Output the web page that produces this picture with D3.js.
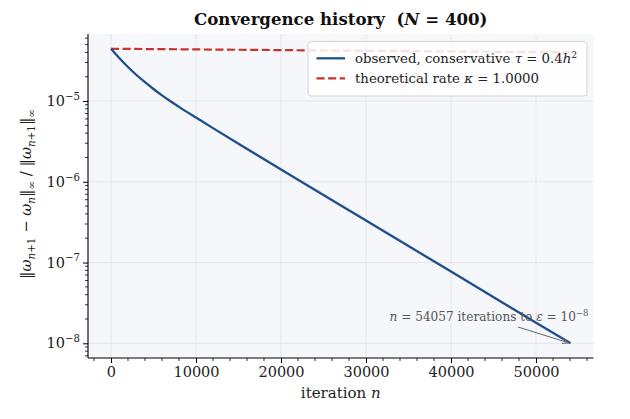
<!DOCTYPE html>
<html><head><meta charset="utf-8">
<script src="https://cdn.jsdelivr.net/npm/d3@7"></script>
<style>body{margin:0;background:#fff}svg{display:block;font-family:"DejaVu Serif",serif}svg text{font-family:"DejaVu Serif",serif}</style>
</head><body><svg id="c" width="630" height="419"></svg>
<script>
// ---- data ----
const iterations = [0, 1000, 2000, 3000, 4000, 5000, 6000, 7000, 8000, 10000, 12000, 15000, 20000, 30000, 40000, 50000, 54057];
const residuals  = [4.44e-5, 3.39e-5, 2.64e-5, 2.10e-5, 1.71e-5, 1.41e-5, 1.175e-5, 9.93e-6, 8.47e-6, 6.24e-6, 4.62e-6, 2.96e-6, 1.42e-6, 3.31e-7, 7.73e-8, 1.80e-8, 1.0e-8];
const theoryIters = [0, 54057];
const theoryVals  = [4.44e-5, 4.0e-5];
const xTicks = [0, 10000, 20000, 30000, 40000, 50000];
const yTickExps = [-5, -6, -7, -8];
const finalN = 54057, tol = 1e-8;

const svg = d3.select("#c");
const L = 88, R = 593.5, T = 34, B = 358;
const x = d3.scaleLinear().domain([-2703, 56760]).range([L, R]);
const y = d3.scaleLog().domain([Math.pow(10, -8.182), Math.pow(10, -4.17)]).range([B, T]);

const C_BLUE = "#1f4e8a", C_RED = "#c8312d", GRID = "#e1e4ea";
const FF = "DejaVu Serif";

function rich(sel, segs, fs) {
  let cur = 0;
  segs.forEach(s => {
    const shift = s.sub ? 0.28 * fs : s.sup ? -0.42 * fs : 0;
    const t = sel.append("tspan").text(s.t)
      .attr("font-size", (s.sub || s.sup) ? 0.7 * fs : fs)
      .attr("dy", shift - cur);
    if (s.it) t.attr("font-style", "italic");
    cur = shift;
  });
  return sel;
}

// background
svg.append("rect").attr("x", L).attr("y", T).attr("width", R - L).attr("height", B - T).attr("fill", "#f5f7fb");

// grid
svg.append("g").selectAll("line").data(xTicks).join("line")
  .attr("x1", d => x(d)).attr("x2", d => x(d)).attr("y1", T).attr("y2", B)
  .attr("stroke", GRID).attr("stroke-width", 0.9);
svg.append("g").selectAll("line").data(yTickExps).join("line")
  .attr("y1", d => y(Math.pow(10, d))).attr("y2", d => y(Math.pow(10, d))).attr("x1", L).attr("x2", R)
  .attr("stroke", GRID).attr("stroke-width", 0.9);

// lines
const line = d3.line().x(d => x(d[0])).y(d => y(d[1]));
svg.append("path").datum(theoryIters.map((n, i) => [n, theoryVals[i]]))
  .attr("d", line).attr("fill", "none").attr("stroke", C_RED).attr("stroke-width", 2.2)
  .attr("stroke-dasharray", "8.1,3.5");
svg.append("path").datum(iterations.map((n, i) => [n, residuals[i]]))
  .attr("d", line.curve(d3.curveMonotoneX)).attr("fill", "none").attr("stroke", C_BLUE).attr("stroke-width", 2.3);

// axes
const xMinor = d3.range(-2000, 56761, 2000).filter(v => v % 10000 !== 0);
const gx = svg.append("g").attr("transform", `translate(0,${B})`);
gx.call(d3.axisBottom(x).tickValues(xTicks).tickFormat(d3.format("d")).tickSize(5).tickPadding(4));
gx.attr("font-family", FF).attr("font-size", 14.5);
gx.append("g").selectAll("line").data(xMinor).join("line")
  .attr("x1", d => x(d)).attr("x2", d => x(d)).attr("y1", 0).attr("y2", 3).attr("stroke", "#000").attr("stroke-width", 0.8);
gx.select(".domain").attr("d", `M${L},0H${R}`).attr("stroke-width", 1.1);
gx.selectAll(".tick text").attr("font-family", FF).attr("font-size", 14.5).attr("fill", "#222");
gx.selectAll(".tick line").attr("stroke-width", 1);

const yMinor = [];
for (let e = -9; e <= -5; e++) for (let m = 2; m <= 9; m++) {
  const v = m * Math.pow(10, e);
  if (v >= y.domain()[0] && v <= y.domain()[1]) yMinor.push(v);
}
const gy = svg.append("g").attr("transform", `translate(${L},0)`);
gy.call(d3.axisLeft(y).tickValues(yTickExps.map(e => Math.pow(10, e))).tickFormat("").tickSize(5));
gy.attr("font-family", FF);
gy.select(".domain").attr("d", `M0,${T}V${B}`).attr("stroke-width", 1.1);
gy.selectAll(".tick line").attr("stroke-width", 1);
gy.append("g").selectAll("line").data(yMinor).join("line")
  .attr("y1", d => y(d)).attr("y2", d => y(d)).attr("x1", 0).attr("x2", -3).attr("stroke", "#000").attr("stroke-width", 0.8);
yTickExps.forEach(e => {
  const t = gy.append("text").attr("x", -8).attr("y", y(Math.pow(10, e)) + 5).attr("text-anchor", "end")
    .attr("fill", "#222").attr("font-family", FF);
  rich(t, [{t: "10"}, {t: "\u2212" + Math.abs(e), sup: true}], 14.5);
});

// axis labels
const xl = svg.append("text").attr("x", (L + R) / 2).attr("y", 398).attr("text-anchor", "middle").attr("fill", "#222");
rich(xl, [{t: "iteration "}, {t: "n", it: true}], 15);

const yl = svg.append("text").attr("transform", `translate(31,194) rotate(-90)`).attr("text-anchor", "middle").attr("fill", "#222");
rich(yl, [
  {t: "\u2016"}, {t: "\u03c9", it: true}, {t: "n", sub: true, it: true}, {t: "+1", sub: true}, {t: " \u2212 "}, {t: "\u03c9", it: true}, {t: "n", sub: true, it: true},
  {t: "\u2016"}, {t: "\u221e", sub: true}, {t: " / \u2016"}, {t: "\u03c9", it: true}, {t: "n", sub: true, it: true}, {t: "+1", sub: true}, {t: "\u2016"}, {t: "\u221e", sub: true}
], 14.8);

// title
const tt = svg.append("text").attr("x", (L + R) / 2).attr("y", 25).attr("text-anchor", "middle")
  .attr("font-weight", "bold").attr("fill", "#111");
rich(tt, [{t: "Convergence history\u00a0\u00a0("}, {t: "N", it: true}, {t: " = 400)"}], 16.6);

// annotation
const ax = x(finalN), ay = y(tol);
svg.append("defs").append("marker").attr("id", "ah").attr("viewBox", "0 0 10 10").attr("refX", 9).attr("refY", 5)
  .attr("markerWidth", 7).attr("markerHeight", 7).attr("orient", "auto")
  .append("path").attr("d", "M0,1L9,5L0,9").attr("fill", "none").attr("stroke", "#666").attr("stroke-width", 1.3);
svg.append("line").attr("x1", 518).attr("y1", 327).attr("x2", ax - 2).attr("y2", ay - 0.5)
  .attr("stroke", "#666").attr("stroke-width", 1).attr("marker-end", "url(#ah)");
const an = svg.append("text").attr("x", 489).attr("y", 321).attr("text-anchor", "middle").attr("fill", "#555");
rich(an, [{t: "n", it: true}, {t: " = 54057 iterations to "}, {t: "\u03b5", it: true}, {t: " = 10"}, {t: "\u22128", sup: true}], 12.1);

// legend
const lg = svg.append("g");
lg.append("rect").attr("x", 308).attr("y", 41.5).attr("width", 279).attr("height", 54.5).attr("rx", 3)
  .attr("fill", "#fff").attr("fill-opacity", 0.85).attr("stroke", "#cfcfcf").attr("stroke-width", 0.9);
const items = [
  {c: C_BLUE, dash: null, segs: [{t: "observed, conservative "}, {t: "\u03c4", it: true}, {t: " = 0.4"}, {t: "h", it: true}, {t: "2", sup: true}]},
  {c: C_RED, dash: "8.1,3.5", segs: [{t: "theoretical rate "}, {t: "\u03ba", it: true}, {t: " = 1.0000"}]}
];
items.forEach((it, i) => {
  const yy = 58.3 + i * 20;
  const l = lg.append("line").attr("x1", 316.5).attr("x2", 345).attr("y1", yy).attr("y2", yy)
    .attr("stroke", it.c).attr("stroke-width", 2.3);
  if (it.dash) l.attr("stroke-dasharray", it.dash);
  const t = lg.append("text").attr("x", 355).attr("y", yy + 4.8).attr("fill", "#222");
  rich(t, it.segs, 13.3);
});
</script></body></html>
